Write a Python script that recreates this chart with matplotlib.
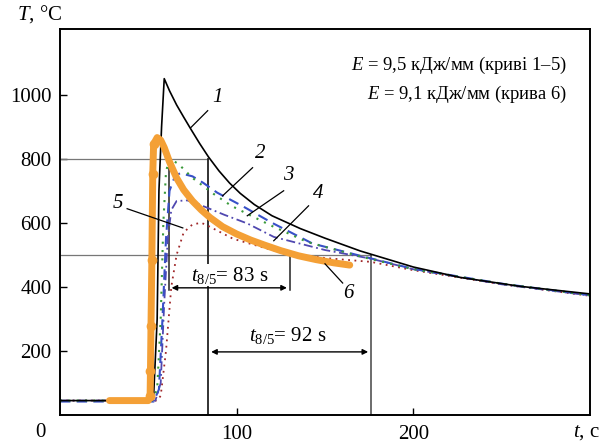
import matplotlib
matplotlib.use("Agg")
import matplotlib.pyplot as plt

plt.rcParams['font.family'] = ['Liberation Serif', 'DejaVu Serif']
plt.rcParams['mathtext.fontset'] = 'custom'
plt.rcParams['mathtext.rm'] = 'Liberation Serif'
plt.rcParams['mathtext.it'] = 'Liberation Serif:italic'

# curve 1 (black solid)
t1 = [0, 50, 53, 55, 56, 57.5, 59, 62, 66, 70, 74, 79, 84, 90, 96, 102, 110, 120, 136, 150, 170, 200, 226, 260, 300]
T1 = [45, 45, 60, 300, 700, 900, 1050, 1012, 968, 930, 893, 848, 806, 762, 724, 692, 657, 622, 582, 552, 512, 462, 430, 402, 378]
# curve 2 (green dotted)
t2 = [0, 52, 55, 57, 58.5, 60, 62, 67, 75, 87, 97, 106, 120, 140, 170, 200, 250, 300]
T2 = [45, 45, 80, 300, 600, 760, 800, 784, 740, 690, 653, 628, 590, 540, 495, 455, 410, 374]
# curve 3 (blue dashed)
t3 = [0, 53, 56, 58, 60, 62, 65, 68, 75, 81, 89, 104, 120, 143, 170, 200, 250, 300]
T3 = [42, 42, 80, 300, 550, 700, 745, 755, 745, 725, 694, 650, 600, 535, 497, 456, 410, 374]
# curve 4 (purple dash-dot)
t4 = [0, 54, 57, 59, 61, 63, 66, 72, 78, 93, 106, 121, 150, 176, 200, 250, 300]
T4 = [45, 45, 100, 350, 550, 640, 668, 670, 659, 625, 598, 556, 515, 488, 455, 408, 373]
# curve 5 (dark red dotted)
t5 = [0, 55, 57, 60, 63, 66, 70, 75, 80, 84, 98, 120, 150, 176, 200, 250, 300]
T5 = [45, 45, 60, 200, 400, 500, 570, 595, 600, 590, 550, 515, 490, 478, 452, 408, 372]
# curve 6 (orange, measured)
t6 = [28, 50, 51, 51.2, 51.5, 52, 52.5, 53, 55, 57, 59, 62, 66, 70, 75, 80, 85, 92, 100, 108, 116, 125, 135, 145, 155, 164]
T6 = [45, 45, 60, 137, 278, 484, 753, 846, 866, 858, 835, 790, 740, 703, 668, 640, 616, 588, 565, 546, 530, 513, 497, 485, 475, 468]

fig = plt.figure(figsize=(6.03, 4.47), dpi=100)
ax = fig.add_axes([60/603, 1-415/447, 530/603, 386/447])
ax.set_xlim(0, 300)
ax.set_ylim(0, 1205)

# reference lines
ax.plot([0, 84], [800, 800], color='#777777', lw=0.9)
ax.plot([0, 176], [500, 500], color='#777777', lw=0.9)
ax.plot([84, 84], [0, 800], color='#222222', lw=1.3)
ax.plot([176, 176], [0, 500], color='#444444', lw=1.1)
ax.plot([61.6, 61.6], [390, 800], color='#222222', lw=1.1)
ax.plot([130, 130], [390, 500], color='#222222', lw=1.1)

ax.plot(t5, T5, color='#a0282a', lw=1.3, ls=(0, (1, 2.5)))
ax.plot(t4, T4, color='#5048b0', lw=1.3, ls=(0, (5, 2, 1, 2)))
ax.plot(t3, T3, color='#3850c8', lw=1.5, ls=(0, (5, 3)))
ax.plot(t2, T2, color='#3a9a3a', lw=1.5, ls=(0, (1, 3)))
ax.plot(t1, T1, color='black', lw=1.2)
ax.plot(t6, T6, color='#f4a036', lw=5, solid_capstyle='round', solid_joinstyle='round',
        marker='o', ms=6, markevery=[2, 3, 4, 5, 6, 7])

# arrows
ax.annotate('', xy=(61.6, 397), xytext=(130, 397),
            arrowprops=dict(arrowstyle='<|-|>', color='black', lw=1.0, mutation_scale=8))
ax.annotate('', xy=(84, 197), xytext=(176, 197),
            arrowprops=dict(arrowstyle='<|-|>', color='black', lw=1.0, mutation_scale=8))
ax.text(96, 437, r'$t_{8/5}$= 83 s', fontsize=15, ha='center', va='center',
        bbox=dict(facecolor='white', edgecolor='none', pad=0.5))
ax.text(129, 247, r'$t_{8/5}$= 92 s', fontsize=15, ha='center', va='center',
        bbox=dict(facecolor='white', edgecolor='none', pad=0.5))

# curve labels with leaders
labels = ['1', '2', '3', '4', '5', '6']
lab_pos = [(89, 990), (113.6, 816), (129, 747), (146, 690), (33, 660), (163, 378)]
lead_from = [(83.6, 950), (109, 772), (126.6, 700), (140.7, 653), (38, 644), (160, 412)]
lead_to = [(74, 897), (92, 684), (106, 622), (121, 544), (69.5, 584), (150, 472)]
for lab, p, a, b in zip(labels, lab_pos, lead_from, lead_to):
    ax.text(p[0], p[1], lab, fontsize=15, style='italic', ha='center', va='center')
    ax.plot([a[0], b[0]], [a[1], b[1]], color='black', lw=0.9)

ax.text(0.957, 0.905, r'$E$ = 9,5 кДж/мм (криві 1–5)', transform=ax.transAxes,
        fontsize=13.4, ha='right', va='center')
ax.text(0.957, 0.83, r'$E$ = 9,1 кДж/мм (крива 6)', transform=ax.transAxes,
        fontsize=13.4, ha='right', va='center')

ax.set_yticks([200, 400, 600, 800, 1000])
ax.set_xticks([100, 200])
ax.tick_params(direction='in', length=5, width=1, labelsize=15)
ax.tick_params(axis='y', pad=6)
ax.tick_params(axis='x', pad=7)
for s in ax.spines.values():
    s.set_linewidth(1.4)

ax.annotate('0', xy=(0, 0), xycoords='data', xytext=(-14, -12.5), textcoords='offset points',
            fontsize=15, ha='center', va='center')
fig.text(40/603, 1-14/447, r'$T$, °C', fontsize=15, ha='center', va='center')
fig.text(586/603, 1-432/447, r'$t$, c', fontsize=15, ha='center', va='center')

fig.savefig('out.png', dpi=100)
